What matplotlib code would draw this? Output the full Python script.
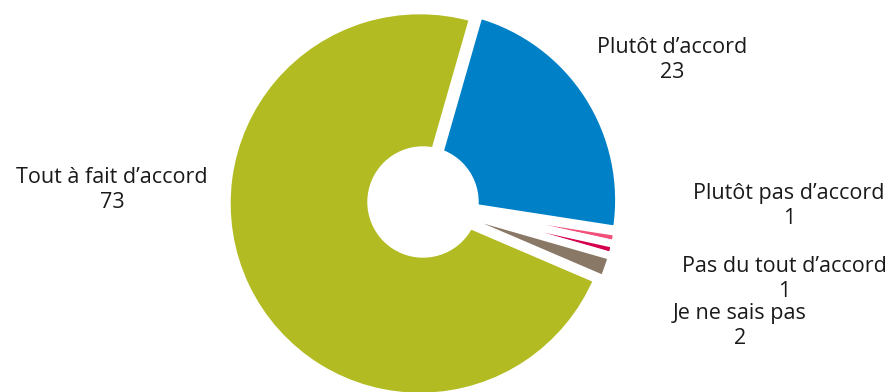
import matplotlib
matplotlib.use("Agg")
import matplotlib.pyplot as plt
from matplotlib.patches import Circle

plt.rcParams["font.family"] = ["Open Sans", "DejaVu Sans"]

# Donnees (ordre horaire a partir du haut)
categories = ["Plutôt d’accord", "Plutôt pas d’accord", "Pas du tout d’accord",
              "Je ne sais pas", "Tout à fait d’accord"]
values = [23, 1, 1, 2, 73]
colors = ["#0080C6", "#F0507A", "#D5004F", "#8A7866", "#B2BB21"]

# position des etiquettes en pixels (centre du bloc)
label_pos = [(672, 60), (789, 206), (784, 279), (740, 326), (112, 190)]

W, H = 892, 392
cx, cy, R = 423, 202, 193

fig = plt.figure(figsize=(W / 100, H / 100), dpi=100)
ax = fig.add_axes([0, 0, 1, 1])
ax.pie(values, colors=colors, startangle=74, counterclock=False,
       explode=[0.018] * len(values),
       wedgeprops=dict(edgecolor="white", linewidth=5.5))
ax.add_patch(Circle((0, 0), 0.285, color="white", zorder=5))
ax.set_xlim(-cx / R, (W - cx) / R)
ax.set_ylim(-(H - cy) / R, cy / R)
ax.set_aspect("equal", adjustable="box")
ax.axis("off")

for cat, val, (px, py) in zip(categories, values, label_pos):
    fig.text(px / W, 1 - py / H, f"{cat}\n{val}", ha="center", va="center",
             fontsize=15.5, color="#1a1a1a", linespacing=1.28)

fig.savefig("out.png", dpi=100, facecolor="white")
